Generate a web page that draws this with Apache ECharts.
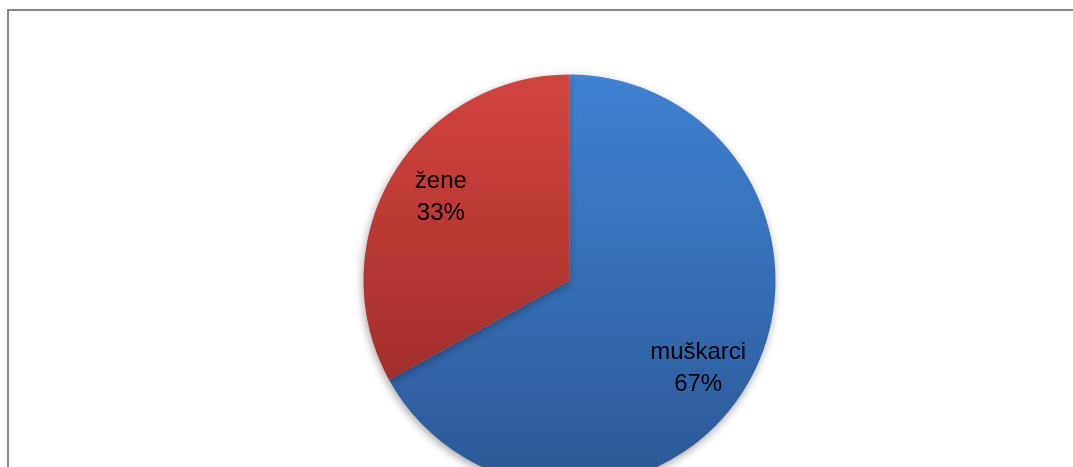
<!DOCTYPE html>
<html>
<head>
<meta charset="utf-8">
<script src="https://cdn.jsdelivr.net/npm/echarts@6/dist/echarts.min.js"></script>
<style>
html,body{margin:0;padding:0;background:#fff;}
#frame{position:absolute;left:7px;top:9px;width:1080px;height:480px;border:2px solid #888;box-sizing:border-box;}
#c{position:absolute;left:0;top:0;width:1073px;height:467px;}
</style>
</head>
<body>
<div id="frame"></div>
<div id="c"></div>
<script>
var categories = ['muškarci', 'žene'];
var values = [67, 33];
var topColors = ['#3f82d3', '#d2433e'];
var bottomColors = ['#2b5896', '#922825'];

var cx = 569.5, cy = 280.5, R = 206;
var labelOffsets = [[-6, 8], [6, -3]];

function grad(i) {
  return {
    type: 'linear', global: true,
    x: cx, y: cy - R, x2: cx, y2: cy + R,
    colorStops: [{offset: 0, color: topColors[i]}, {offset: 1, color: bottomColors[i]}]
  };
}

var data = categories.map(function (n, i) {
  return {name: n, value: values[i], itemStyle: {color: grad(i)}};
});
var labelData = categories.map(function (n, i) {
  return {name: n, value: values[i], label: {offset: labelOffsets[i]}};
});

var chart = echarts.init(document.getElementById('c'), null, {renderer: 'canvas'});
chart.setOption({
  animation: false,
  series: [
    {
      type: 'pie',
      center: [cx, cy],
      radius: [0, R],
      startAngle: 90,
      clockwise: true,
      silent: true,
      label: {show: false},
      labelLine: {show: false},
      itemStyle: {
        borderWidth: 0,
        shadowBlur: 8,
        shadowOffsetX: -1,
        shadowOffsetY: 3,
        shadowColor: 'rgba(0,0,0,0.35)'
      },
      data: data
    },
    {
      type: 'pie',
      center: [cx, cy],
      radius: [R * 0.49, R],
      startAngle: 90,
      clockwise: true,
      silent: true,
      itemStyle: {color: 'rgba(0,0,0,0)', borderWidth: 0},
      labelLine: {show: false},
      label: {
        show: true,
        position: 'inside',
        formatter: function (p) { return p.name + '\n' + Math.round(p.percent) + '%'; },
        color: '#000',
        fontFamily: 'Liberation Sans, Arial, sans-serif',
        fontSize: 24,
        lineHeight: 32,
        align: 'center'
      },
      data: labelData
    }
  ]
});
</script>
</body>
</html>
